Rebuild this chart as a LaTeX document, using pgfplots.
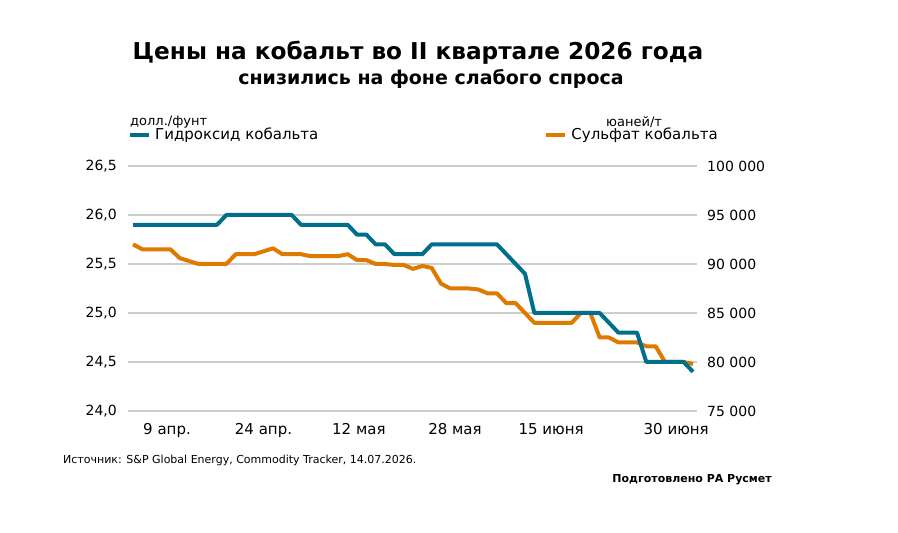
\documentclass[border=0pt]{standalone}
\usepackage{pgfplots}
\pgfplotsset{compat=1.18}
\usepackage{fontspec}
\setmainfont{DejaVu Sans}
\definecolor{teal1}{RGB}{0,110,140}
\definecolor{orange1}{RGB}{222,122,0}
\definecolor{gridc}{RGB}{205,205,205}
\newcommand{\fs}[1]{\fontsize{#1bp}{#1bp}\selectfont}
\begin{document}
\begin{tikzpicture}[x=1bp,y=1bp]
\useasboundingbox (0,0) rectangle (898,533);
% right axis (orange) with grid and x ticks
\begin{axis}[
  at={(128bp,122bp)}, anchor=south west,
  scale only axis, width=569bp, height=245bp,
  xmin=-0.54, xmax=60.43,
  ymin=75000, ymax=100000,
  scaled y ticks=false,
  axis y line*=right,
  axis line style={draw=none},
  major tick length=0pt,
  ytick={75000,80000,85000,90000,95000,100000},
  yticklabels={75 000,80 000,85 000,90 000,95 000,100 000},
  yticklabel style={font=\fs{14}, inner sep=0pt, anchor=west, xshift=10bp},
  xtick={3.64,13.98,24.2,34.5,44.8,58.2},
  xticklabels={9 апр.,24 апр.,12 мая,28 мая,15 июня,30 июня},
  xticklabel style={font=\fs{15}, inner sep=0pt, anchor=north, yshift=-12bp},
  ymajorgrids, grid style={gridc, line width=2.5bp},
  legend style={draw=none, fill=none, at={(axis description cs:0.7315,1.127)}, anchor=west,
    inner sep=0pt, font=\fs{15}, nodes={inner sep=0pt},
    /tikz/every odd column/.append style={column sep=4bp}},
  legend image code/.code={\draw[#1,line width=4bp](0bp,0bp)--(19bp,0bp);},
]
\addplot[orange1, line width=4bp, line join=round] coordinates {
(0,92000)(1,91500)(2,91500)(3,91500)(4,91500)(5,90600)(6,90300)(7,90000)(8,90000)(9,90000)
(10,90000)(11,91000)(12,91000)(13,91000)(14,91300)(15,91600)(16,91000)(17,91000)(18,91000)(19,90800)
(20,90800)(21,90800)(22,90800)(23,91000)(24,90400)(25,90400)(26,90000)(27,90000)(28,89900)(29,89900)
(30,89500)(31,89800)(32,89600)(33,88000)(34,87500)(35,87500)(36,87500)(37,87400)(38,87000)(39,87000)
(40,86000)(41,86000)(42,85000)(43,84000)(44,84000)(45,84000)(46,84000)(47,84000)(48,85000)(49,85000)
(50,82500)(51,82500)(52,82000)(53,82000)(54,82000)(55,81600)(56,81600)(57,80000)(58,80000)(59,80000)
(60,79800)};
\addlegendentry{Сульфат кобальта}
\end{axis}
% left axis (teal)
\begin{axis}[
  at={(128bp,122bp)}, anchor=south west,
  scale only axis, width=569bp, height=245bp,
  xmin=-0.54, xmax=60.43,
  ymin=24, ymax=26.5,
  axis y line*=left,
  axis line style={draw=none},
  major tick length=0pt,
  xtick=\empty,
  ytick={24,24.5,25,25.5,26,26.5},
  yticklabels={{24,0},{24,5},{25,0},{25,5},{26,0},{26,5}},
  yticklabel style={font=\fs{14}, inner sep=0pt, anchor=east, xshift=-11bp},
  legend style={draw=none, fill=none, at={(axis description cs:0.0,1.127)}, anchor=west,
    inner sep=0pt, font=\fs{15}, nodes={inner sep=0pt},
    /tikz/every odd column/.append style={column sep=4bp}},
  legend image code/.code={\draw[#1,line width=4bp](0bp,0bp)--(19bp,0bp);},
]
\addplot[teal1, line width=4bp, line join=round] coordinates {
(0,25.9)(1,25.9)(2,25.9)(3,25.9)(4,25.9)(5,25.9)(6,25.9)(7,25.9)(8,25.9)(9,25.9)
(10,26.0)(11,26.0)(12,26.0)(13,26.0)(14,26.0)(15,26.0)(16,26.0)(17,26.0)(18,25.9)(19,25.9)
(20,25.9)(21,25.9)(22,25.9)(23,25.9)(24,25.8)(25,25.8)(26,25.7)(27,25.7)(28,25.6)(29,25.6)
(30,25.6)(31,25.6)(32,25.7)(33,25.7)(34,25.7)(35,25.7)(36,25.7)(37,25.7)(38,25.7)(39,25.7)
(40,25.6)(41,25.5)(42,25.4)(43,25.0)(44,25.0)(45,25.0)(46,25.0)(47,25.0)(48,25.0)(49,25.0)
(50,25.0)(51,24.9)(52,24.8)(53,24.8)(54,24.8)(55,24.5)(56,24.5)(57,24.5)(58,24.5)(59,24.5)
(60,24.4)};
\addlegendentry{Гидроксид кобальта}
\end{axis}
% titles and notes
\node[font=\bfseries\fs{23.2}] at (418,480) {Цены на кобальт во II квартале 2026 года};
\node[font=\bfseries\fs{19}] at (431,454) {снизились на фоне слабого спроса};
\node[font=\fs{13}, anchor=west, inner sep=0pt] at (130,411) {долл./фунт};
\node[font=\fs{13}, anchor=west, inner sep=0pt] at (606,411) {юаней/т};
\node[font=\fs{11}, anchor=west, inner sep=0pt] at (63,73) {Источник: S\&P Global Energy, Commodity Tracker, 14.07.2026.};
\node[font=\bfseries\fs{11}, anchor=east, inner sep=0pt] at (772,53) {Подготовлено РА Русмет};
\end{tikzpicture}
\end{document}
